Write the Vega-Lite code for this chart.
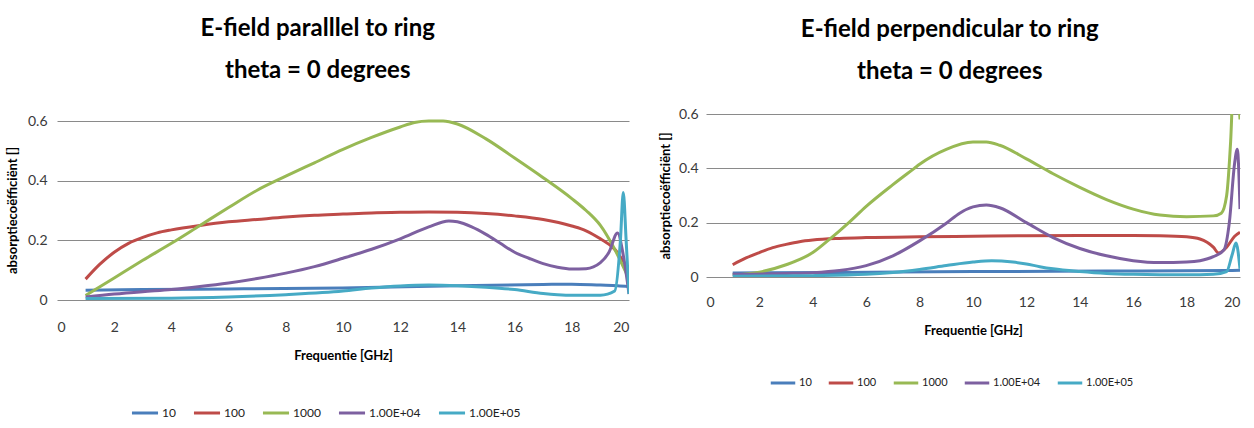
{
  "$schema": "https://vega.github.io/schema/vega-lite/v6.json",
  "background": "white",
  "padding": {"left": 6, "top": 17, "right": 4, "bottom": 0},
  "spacing": 30,
  "config": {
    "font": "Lato",
    "view": {"stroke": null},
    "title": {"font": "Lato", "fontSize": 24, "fontWeight": "bold", "color": "#000000", "lineHeight": 42, "frame": "bounds", "anchor": "middle"},
    "axis": {"labelFont": "Lato", "labelFontSize": 14, "labelColor": "#3a3a3a", "titleFont": "Lato", "titleFontSize": 13, "titleFontWeight": "bold", "titleColor": "#000000"},
    "legend": {"orient": "none", "direction": "horizontal", "title": null, "symbolType": "stroke", "symbolStrokeWidth": 3, "symbolSize": 680, "labelFontSize": 12, "labelColor": "#222222", "labelFont": "Lato", "labelOffset": 2, "columnPadding": 11}
  },
  "resolve": {"scale": {"color": "independent"}},
  "hconcat": [
    {
      "title": {"text": ["E-field paralllel to ring", "theta = 0 degrees"], "offset": 31},
      "width": 572,
      "height": 186,
      "data": {"values": [
        {"s": "10", "x": 1, "y": 0.033}, {"s": "10", "x": 3, "y": 0.035}, {"s": "10", "x": 6, "y": 0.037}, {"s": "10", "x": 10, "y": 0.04}, {"s": "10", "x": 14, "y": 0.048}, {"s": "10", "x": 17, "y": 0.052}, {"s": "10", "x": 18, "y": 0.053}, {"s": "10", "x": 19, "y": 0.05}, {"s": "10", "x": 19.6, "y": 0.048}, {"s": "10", "x": 20, "y": 0.045},
        {"s": "100", "x": 1, "y": 0.07}, {"s": "100", "x": 1.5, "y": 0.12}, {"s": "100", "x": 2, "y": 0.16}, {"s": "100", "x": 2.5, "y": 0.19}, {"s": "100", "x": 3, "y": 0.21}, {"s": "100", "x": 3.5, "y": 0.225}, {"s": "100", "x": 4, "y": 0.235}, {"s": "100", "x": 5, "y": 0.25}, {"s": "100", "x": 6, "y": 0.262}, {"s": "100", "x": 7, "y": 0.27}, {"s": "100", "x": 8, "y": 0.278}, {"s": "100", "x": 9, "y": 0.284}, {"s": "100", "x": 10, "y": 0.288}, {"s": "100", "x": 11, "y": 0.292}, {"s": "100", "x": 12, "y": 0.294}, {"s": "100", "x": 13, "y": 0.295}, {"s": "100", "x": 14, "y": 0.294}, {"s": "100", "x": 15, "y": 0.29}, {"s": "100", "x": 16, "y": 0.282}, {"s": "100", "x": 17, "y": 0.27}, {"s": "100", "x": 18, "y": 0.248}, {"s": "100", "x": 18.5, "y": 0.232}, {"s": "100", "x": 19, "y": 0.205}, {"s": "100", "x": 19.5, "y": 0.17}, {"s": "100", "x": 19.8, "y": 0.13}, {"s": "100", "x": 20, "y": 0.1},
        {"s": "1000", "x": 1, "y": 0.015}, {"s": "1000", "x": 2, "y": 0.074}, {"s": "1000", "x": 3, "y": 0.133}, {"s": "1000", "x": 4, "y": 0.19}, {"s": "1000", "x": 5, "y": 0.25}, {"s": "1000", "x": 6, "y": 0.31}, {"s": "1000", "x": 7, "y": 0.368}, {"s": "1000", "x": 8, "y": 0.415}, {"s": "1000", "x": 9, "y": 0.46}, {"s": "1000", "x": 10, "y": 0.505}, {"s": "1000", "x": 11, "y": 0.545}, {"s": "1000", "x": 12, "y": 0.58}, {"s": "1000", "x": 12.5, "y": 0.595}, {"s": "1000", "x": 13, "y": 0.6}, {"s": "1000", "x": 13.5, "y": 0.6}, {"s": "1000", "x": 14, "y": 0.59}, {"s": "1000", "x": 15, "y": 0.54}, {"s": "1000", "x": 16, "y": 0.476}, {"s": "1000", "x": 17, "y": 0.41}, {"s": "1000", "x": 18, "y": 0.34}, {"s": "1000", "x": 18.5, "y": 0.3}, {"s": "1000", "x": 19, "y": 0.25}, {"s": "1000", "x": 19.5, "y": 0.17}, {"s": "1000", "x": 20, "y": 0.07},
        {"s": "1.00E+04", "x": 1, "y": 0.01}, {"s": "1.00E+04", "x": 2, "y": 0.02}, {"s": "1.00E+04", "x": 3, "y": 0.028}, {"s": "1.00E+04", "x": 4, "y": 0.035}, {"s": "1.00E+04", "x": 5, "y": 0.045}, {"s": "1.00E+04", "x": 6, "y": 0.057}, {"s": "1.00E+04", "x": 7, "y": 0.072}, {"s": "1.00E+04", "x": 8, "y": 0.09}, {"s": "1.00E+04", "x": 9, "y": 0.112}, {"s": "1.00E+04", "x": 10, "y": 0.14}, {"s": "1.00E+04", "x": 11, "y": 0.17}, {"s": "1.00E+04", "x": 12, "y": 0.205}, {"s": "1.00E+04", "x": 13, "y": 0.245}, {"s": "1.00E+04", "x": 13.7, "y": 0.265}, {"s": "1.00E+04", "x": 14, "y": 0.262}, {"s": "1.00E+04", "x": 14.5, "y": 0.245}, {"s": "1.00E+04", "x": 15, "y": 0.22}, {"s": "1.00E+04", "x": 15.5, "y": 0.19}, {"s": "1.00E+04", "x": 16, "y": 0.16}, {"s": "1.00E+04", "x": 16.5, "y": 0.14}, {"s": "1.00E+04", "x": 17, "y": 0.122}, {"s": "1.00E+04", "x": 17.5, "y": 0.11}, {"s": "1.00E+04", "x": 18, "y": 0.104}, {"s": "1.00E+04", "x": 18.5, "y": 0.105}, {"s": "1.00E+04", "x": 19, "y": 0.125}, {"s": "1.00E+04", "x": 19.3, "y": 0.16}, {"s": "1.00E+04", "x": 19.6, "y": 0.225}, {"s": "1.00E+04", "x": 19.8, "y": 0.15}, {"s": "1.00E+04", "x": 20, "y": 0.02},
        {"s": "1.00E+05", "x": 1, "y": 0.005}, {"s": "1.00E+05", "x": 4, "y": 0.006}, {"s": "1.00E+05", "x": 6, "y": 0.01}, {"s": "1.00E+05", "x": 8, "y": 0.018}, {"s": "1.00E+05", "x": 10, "y": 0.03}, {"s": "1.00E+05", "x": 11, "y": 0.04}, {"s": "1.00E+05", "x": 12, "y": 0.047}, {"s": "1.00E+05", "x": 13, "y": 0.05}, {"s": "1.00E+05", "x": 14, "y": 0.048}, {"s": "1.00E+05", "x": 15, "y": 0.043}, {"s": "1.00E+05", "x": 16, "y": 0.035}, {"s": "1.00E+05", "x": 17, "y": 0.022}, {"s": "1.00E+05", "x": 17.5, "y": 0.018}, {"s": "1.00E+05", "x": 18, "y": 0.016}, {"s": "1.00E+05", "x": 19, "y": 0.016}, {"s": "1.00E+05", "x": 19.5, "y": 0.03}, {"s": "1.00E+05", "x": 19.7, "y": 0.2}, {"s": "1.00E+05", "x": 19.8, "y": 0.36}, {"s": "1.00E+05", "x": 19.9, "y": 0.2}, {"s": "1.00E+05", "x": 20, "y": 0.02}
      ]},
      "mark": {"type": "line", "strokeWidth": 3, "clip": true, "interpolate": "monotone"},
      "encoding": {
        "x": {"field": "x", "type": "quantitative", "scale": {"domain": [0, 20], "nice": false}, "axis": {"values": [0, 2, 4, 6, 8, 10, 12, 14, 16, 18, 20], "grid": false, "ticks": false, "domain": false, "labelPadding": 20, "title": "Frequentie [GHz]", "titlePadding": 15}},
        "y": {"field": "y", "type": "quantitative", "scale": {"domain": [0, 0.6235], "nice": false, "zero": true}, "axis": {"values": [0, 0.2, 0.4, 0.6], "format": ".1~f", "grid": true, "gridColor": "#8a8a8a", "gridWidth": 1, "ticks": false, "domain": false, "labelPadding": 10, "title": "absorptiecoëfficiënt []", "titlePadding": 8, "titleY": 96}},
        "color": {"field": "s", "type": "nominal", "sort": ["10", "100", "1000", "1.00E+04", "1.00E+05"], "scale": {"domain": ["10", "100", "1000", "1.00E+04", "1.00E+05"], "range": ["#4A7EBB", "#BE4B48", "#98B954", "#7D60A0", "#46AAC5"]}, "legend": {"legendX": 73, "legendY": 284}},
        "order": {"field": "x", "type": "quantitative"}
      }
    },
    {
      "title": {"text": ["E-field perpendicular  to ring", "theta = 0 degrees"], "offset": 23},
      "width": 534,
      "height": 163,
      "data": {"values": [
        {"s": "10", "x": 1, "y": 0.015}, {"s": "10", "x": 5, "y": 0.017}, {"s": "10", "x": 10, "y": 0.02}, {"s": "10", "x": 15, "y": 0.022}, {"s": "10", "x": 19.5, "y": 0.024}, {"s": "10", "x": 20, "y": 0.025},
        {"s": "100", "x": 1, "y": 0.045}, {"s": "100", "x": 1.5, "y": 0.07}, {"s": "100", "x": 2, "y": 0.09}, {"s": "100", "x": 2.5, "y": 0.108}, {"s": "100", "x": 3, "y": 0.12}, {"s": "100", "x": 3.5, "y": 0.13}, {"s": "100", "x": 4, "y": 0.136}, {"s": "100", "x": 5, "y": 0.142}, {"s": "100", "x": 6, "y": 0.145}, {"s": "100", "x": 8, "y": 0.148}, {"s": "100", "x": 10, "y": 0.15}, {"s": "100", "x": 12, "y": 0.152}, {"s": "100", "x": 14, "y": 0.153}, {"s": "100", "x": 16, "y": 0.153}, {"s": "100", "x": 17, "y": 0.152}, {"s": "100", "x": 18, "y": 0.148}, {"s": "100", "x": 18.5, "y": 0.14}, {"s": "100", "x": 19, "y": 0.11}, {"s": "100", "x": 19.2, "y": 0.088}, {"s": "100", "x": 19.5, "y": 0.11}, {"s": "100", "x": 19.8, "y": 0.15}, {"s": "100", "x": 20, "y": 0.165},
        {"s": "1000", "x": 1, "y": 0.008}, {"s": "1000", "x": 2, "y": 0.018}, {"s": "1000", "x": 3, "y": 0.045}, {"s": "1000", "x": 4, "y": 0.09}, {"s": "1000", "x": 4.7, "y": 0.145}, {"s": "1000", "x": 5, "y": 0.17}, {"s": "1000", "x": 5.35, "y": 0.2}, {"s": "1000", "x": 6, "y": 0.26}, {"s": "1000", "x": 7, "y": 0.34}, {"s": "1000", "x": 7.8, "y": 0.4}, {"s": "1000", "x": 8, "y": 0.415}, {"s": "1000", "x": 9, "y": 0.47}, {"s": "1000", "x": 10, "y": 0.497}, {"s": "1000", "x": 10.5, "y": 0.497}, {"s": "1000", "x": 11, "y": 0.485}, {"s": "1000", "x": 12, "y": 0.435}, {"s": "1000", "x": 13, "y": 0.38}, {"s": "1000", "x": 14, "y": 0.33}, {"s": "1000", "x": 15, "y": 0.285}, {"s": "1000", "x": 16, "y": 0.25}, {"s": "1000", "x": 17, "y": 0.228}, {"s": "1000", "x": 18, "y": 0.222}, {"s": "1000", "x": 19, "y": 0.225}, {"s": "1000", "x": 19.3, "y": 0.235}, {"s": "1000", "x": 19.5, "y": 0.3}, {"s": "1000", "x": 19.65, "y": 0.5}, {"s": "1000", "x": 19.75, "y": 0.7}, {"s": "1000", "x": 19.9, "y": 0.7}, {"s": "1000", "x": 20, "y": 0.58},
        {"s": "1.00E+04", "x": 1, "y": 0.01}, {"s": "1.00E+04", "x": 3, "y": 0.013}, {"s": "1.00E+04", "x": 4, "y": 0.016}, {"s": "1.00E+04", "x": 5, "y": 0.024}, {"s": "1.00E+04", "x": 6, "y": 0.042}, {"s": "1.00E+04", "x": 7, "y": 0.078}, {"s": "1.00E+04", "x": 8, "y": 0.133}, {"s": "1.00E+04", "x": 9, "y": 0.198}, {"s": "1.00E+04", "x": 9.5, "y": 0.235}, {"s": "1.00E+04", "x": 10, "y": 0.258}, {"s": "1.00E+04", "x": 10.5, "y": 0.265}, {"s": "1.00E+04", "x": 11, "y": 0.255}, {"s": "1.00E+04", "x": 12, "y": 0.2}, {"s": "1.00E+04", "x": 13, "y": 0.145}, {"s": "1.00E+04", "x": 14, "y": 0.105}, {"s": "1.00E+04", "x": 15, "y": 0.078}, {"s": "1.00E+04", "x": 16, "y": 0.06}, {"s": "1.00E+04", "x": 17, "y": 0.053}, {"s": "1.00E+04", "x": 18, "y": 0.055}, {"s": "1.00E+04", "x": 18.5, "y": 0.06}, {"s": "1.00E+04", "x": 19, "y": 0.075}, {"s": "1.00E+04", "x": 19.4, "y": 0.1}, {"s": "1.00E+04", "x": 19.6, "y": 0.2}, {"s": "1.00E+04", "x": 19.8, "y": 0.42}, {"s": "1.00E+04", "x": 19.9, "y": 0.47}, {"s": "1.00E+04", "x": 20, "y": 0.25},
        {"s": "1.00E+05", "x": 1, "y": 0.003}, {"s": "1.00E+05", "x": 4, "y": 0.005}, {"s": "1.00E+05", "x": 6, "y": 0.01}, {"s": "1.00E+05", "x": 7, "y": 0.017}, {"s": "1.00E+05", "x": 8, "y": 0.028}, {"s": "1.00E+05", "x": 9, "y": 0.042}, {"s": "1.00E+05", "x": 10, "y": 0.055}, {"s": "1.00E+05", "x": 10.7, "y": 0.06}, {"s": "1.00E+05", "x": 11.5, "y": 0.055}, {"s": "1.00E+05", "x": 12, "y": 0.048}, {"s": "1.00E+05", "x": 12.5, "y": 0.038}, {"s": "1.00E+05", "x": 13, "y": 0.03}, {"s": "1.00E+05", "x": 14, "y": 0.02}, {"s": "1.00E+05", "x": 15, "y": 0.013}, {"s": "1.00E+05", "x": 16, "y": 0.01}, {"s": "1.00E+05", "x": 18, "y": 0.008}, {"s": "1.00E+05", "x": 19, "y": 0.01}, {"s": "1.00E+05", "x": 19.5, "y": 0.02}, {"s": "1.00E+05", "x": 19.7, "y": 0.08}, {"s": "1.00E+05", "x": 19.85, "y": 0.125}, {"s": "1.00E+05", "x": 20, "y": 0.03}
      ]},
      "mark": {"type": "line", "strokeWidth": 3, "clip": true, "interpolate": "monotone"},
      "encoding": {
        "x": {"field": "x", "type": "quantitative", "scale": {"domain": [0, 20], "nice": false}, "axis": {"values": [0, 2, 4, 6, 8, 10, 12, 14, 16, 18, 20], "grid": false, "ticks": false, "domain": false, "labelPadding": 18, "title": "Frequentie [GHz]", "titlePadding": 15}},
        "y": {"field": "y", "type": "quantitative", "scale": {"domain": [0, 0.6], "nice": false}, "axis": {"values": [0, 0.2, 0.4, 0.6], "format": ".1~f", "grid": true, "gridColor": "#8a8a8a", "gridWidth": 1, "ticks": false, "domain": false, "labelPadding": 8, "title": "absorptiecoëfficiënt []", "titlePadding": 6}},
        "color": {"field": "s", "type": "nominal", "sort": ["10", "100", "1000", "1.00E+04", "1.00E+05"], "scale": {"domain": ["10", "100", "1000", "1.00E+04", "1.00E+05"], "range": ["#4A7EBB", "#BE4B48", "#98B954", "#7D60A0", "#46AAC5"]}, "legend": {"legendX": 63, "legendY": 255, "symbolSize": 600, "labelFontSize": 11, "columnPadding": 10}},
        "order": {"field": "x", "type": "quantitative"}
      }
    }
  ]
}
